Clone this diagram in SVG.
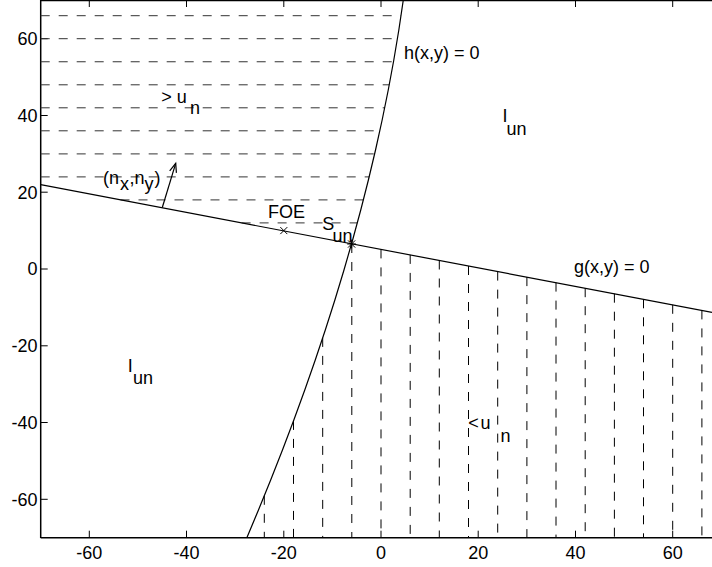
<svg xmlns="http://www.w3.org/2000/svg" width="712" height="567" viewBox="0 0 712 567">
<style>
  text { font-family: "Liberation Sans", Arial, Helvetica, sans-serif; font-size: 18px; fill: #000; }
  .tx { text-anchor: middle; }
  .ty { text-anchor: end; }
  .ax { stroke: #000; stroke-width: 1.5; fill: none; }
  .tk { stroke: #000; stroke-width: 1; fill: none; }
  .ln { stroke: #000; stroke-width: 1.2; fill: none; }
  .dh { stroke: #333; stroke-width: 1; stroke-dasharray: 9 9; fill: none; }
  .dv { stroke: #000; stroke-width: 1; stroke-dasharray: 9 9; fill: none; }
  .mk { stroke: #000; stroke-width: 1; fill: none; }
</style>
<rect x="0" y="0" width="712" height="567" fill="#fff"/>

<g id="axes">
  <path class="ax" d="M40.7,538 L40.7,0.5 L712,0.5 M40.7,537.7 L712,537.7"/>
  <path class="tk" d="M40.7,38.7 h7 M40.7,115.5 h7 M40.7,192.2 h7 M40.7,269 h7 M40.7,345.8 h7 M40.7,422.5 h7 M40.7,499.3 h7
    M89.3,537.7 v-7 M186.5,537.7 v-7 M283.8,537.7 v-7 M381,537.7 v-7 M478.2,537.7 v-7 M575.5,537.7 v-7 M672.7,537.7 v-7
    M89.3,0 v7 M186.5,0 v7 M283.8,0 v7 M381,0 v7 M478.2,0 v7 M575.5,0 v7 M672.7,0 v7"/>
  <g id="yticklabels">
    <text class="ty" x="37.5" y="45">60</text>
    <text class="ty" x="37.5" y="121.8">40</text>
    <text class="ty" x="37.5" y="198.5">20</text>
    <text class="ty" x="37.5" y="275.3">0</text>
    <text class="ty" x="37.5" y="352.1">-20</text>
    <text class="ty" x="37.5" y="428.8">-40</text>
    <text class="ty" x="37.5" y="505.6">-60</text>
  </g>
  <g id="xticklabels">
    <text class="tx" x="89.3" y="558.5">-60</text>
    <text class="tx" x="186.5" y="558.5">-40</text>
    <text class="tx" x="283.8" y="558.5">-20</text>
    <text class="tx" x="381" y="558.5">0</text>
    <text class="tx" x="478.2" y="558.5">20</text>
    <text class="tx" x="575.5" y="558.5">40</text>
    <text class="tx" x="672.7" y="558.5">60</text>
  </g>
</g>

<g id="hatch-upper">
  <line class="dh" x1="40.7" y1="15.7" x2="401" y2="15.7"/>
  <line class="dh" x1="40.7" y1="38.7" x2="397.4" y2="38.7"/>
  <line class="dh" x1="40.7" y1="61.75" x2="393.5" y2="61.75"/>
  <line class="dh" x1="40.7" y1="84.8" x2="389.2" y2="84.8"/>
  <line class="dh" x1="40.7" y1="107.8" x2="384.7" y2="107.8"/>
  <line class="dh" x1="40.7" y1="130.8" x2="379.8" y2="130.8"/>
  <line class="dh" x1="40.7" y1="153.9" x2="374.6" y2="153.9"/>
  <line class="dh" x1="40.7" y1="176.9" x2="369.2" y2="176.9"/>
  <line class="dh" x1="120.5" y1="199.9" x2="363.4" y2="199.9"/>
  <line class="dh" x1="241.6" y1="222.9" x2="357.3" y2="222.9"/>
</g>

<g id="hatch-lower">
  <line class="dv" x1="264.3" y1="495.8" x2="264.3" y2="537.7"/>
  <line class="dv" x1="293.5" y1="420.9" x2="293.5" y2="537.7"/>
  <line class="dv" x1="322.7" y1="337.9" x2="322.7" y2="537.7"/>
  <line class="dv" x1="351.8" y1="244" x2="351.8" y2="537.7"/>
  <line class="dv" x1="381" y1="249.4" x2="381" y2="537.7"/>
  <line class="dv" x1="410.2" y1="254.9" x2="410.2" y2="537.7"/>
  <line class="dv" x1="439.3" y1="260.5" x2="439.3" y2="537.7"/>
  <line class="dv" x1="468.5" y1="266" x2="468.5" y2="537.7"/>
  <line class="dv" x1="497.7" y1="271.6" x2="497.7" y2="537.7"/>
  <line class="dv" x1="526.9" y1="277.1" x2="526.9" y2="537.7"/>
  <line class="dv" x1="556" y1="282.6" x2="556" y2="537.7"/>
  <line class="dv" x1="585.2" y1="288.2" x2="585.2" y2="537.7"/>
  <line class="dv" x1="614.4" y1="293.7" x2="614.4" y2="537.7"/>
  <line class="dv" x1="643.5" y1="299.3" x2="643.5" y2="537.7"/>
  <line class="dv" x1="672.7" y1="304.8" x2="672.7" y2="537.7"/>
  <line class="dv" x1="701.9" y1="310.4" x2="701.9" y2="537.7"/>
</g>

<g id="connectors">
  <path id="g-line" class="ln" d="M40.7,184.7 L712,312.3"/>
  <path id="h-curve" class="ln" d="M403.3,0 L398.83,30 L393.81,60 L388.25,90 L382.15,120 L375.53,150 L368.39,180 L360.75,210 L352.61,240 L343.98,270 L334.88,300 L325.3,330 L315.26,360 L304.77,390 L293.84,420 L282.47,450 L270.68,480 L258.47,510 L246.84,537.7"/>
  <g id="normal-arrow">
    <path class="ln" d="M162.3,207.5 L175.7,163.3"/>
    <path class="ln" d="M169.7,170.9 L175.7,163.3 L176.4,172.9"/>
  </g>
</g>

<g id="foe">
  <path class="mk" d="M280.3,227.1 L287.3,234.1 M280.3,234.1 L287.3,227.1"/>
  <text x="268" y="218.3">FOE</text>
</g>
<g id="s-un">
  <path class="mk" d="M348,240.4 L355.2,247.6 M348,247.6 L355.2,240.4 M351.6,239.6 L351.6,248.4 M347.2,244 L356,244"/>
  <text x="322.3" y="229.5">S<tspan x="332.5" y="241.5">un</tspan></text>
</g>
<g id="label-h"><text x="404" y="58.5">h(x,y) = 0</text></g>
<g id="label-g"><text x="574" y="272.5">g(x,y) = 0</text></g>
<g id="label-gt"><text x="161.3" y="102.5">&gt; u<tspan x="190" y="113.5">n</tspan></text></g>
<g id="label-lt"><text x="468.3" y="428.5">&lt;<tspan x="480.5">u</tspan><tspan x="500.6" y="441.7">n</tspan></text></g>
<g id="label-I-right"><text x="502.5" y="121.7">I<tspan x="506.5" y="135">un</tspan></text></g>
<g id="label-I-left"><text x="127.8" y="371.7">I<tspan x="133.1" y="383.5">un</tspan></text></g>
<g id="label-normal"><text x="103" y="183.5">(n<tspan x="120" y="190">x</tspan><tspan x="129.5" y="183.5">,n</tspan><tspan x="144.5" y="190">y</tspan><tspan x="154.5" y="183.5">)</tspan></text></g>
</svg>
